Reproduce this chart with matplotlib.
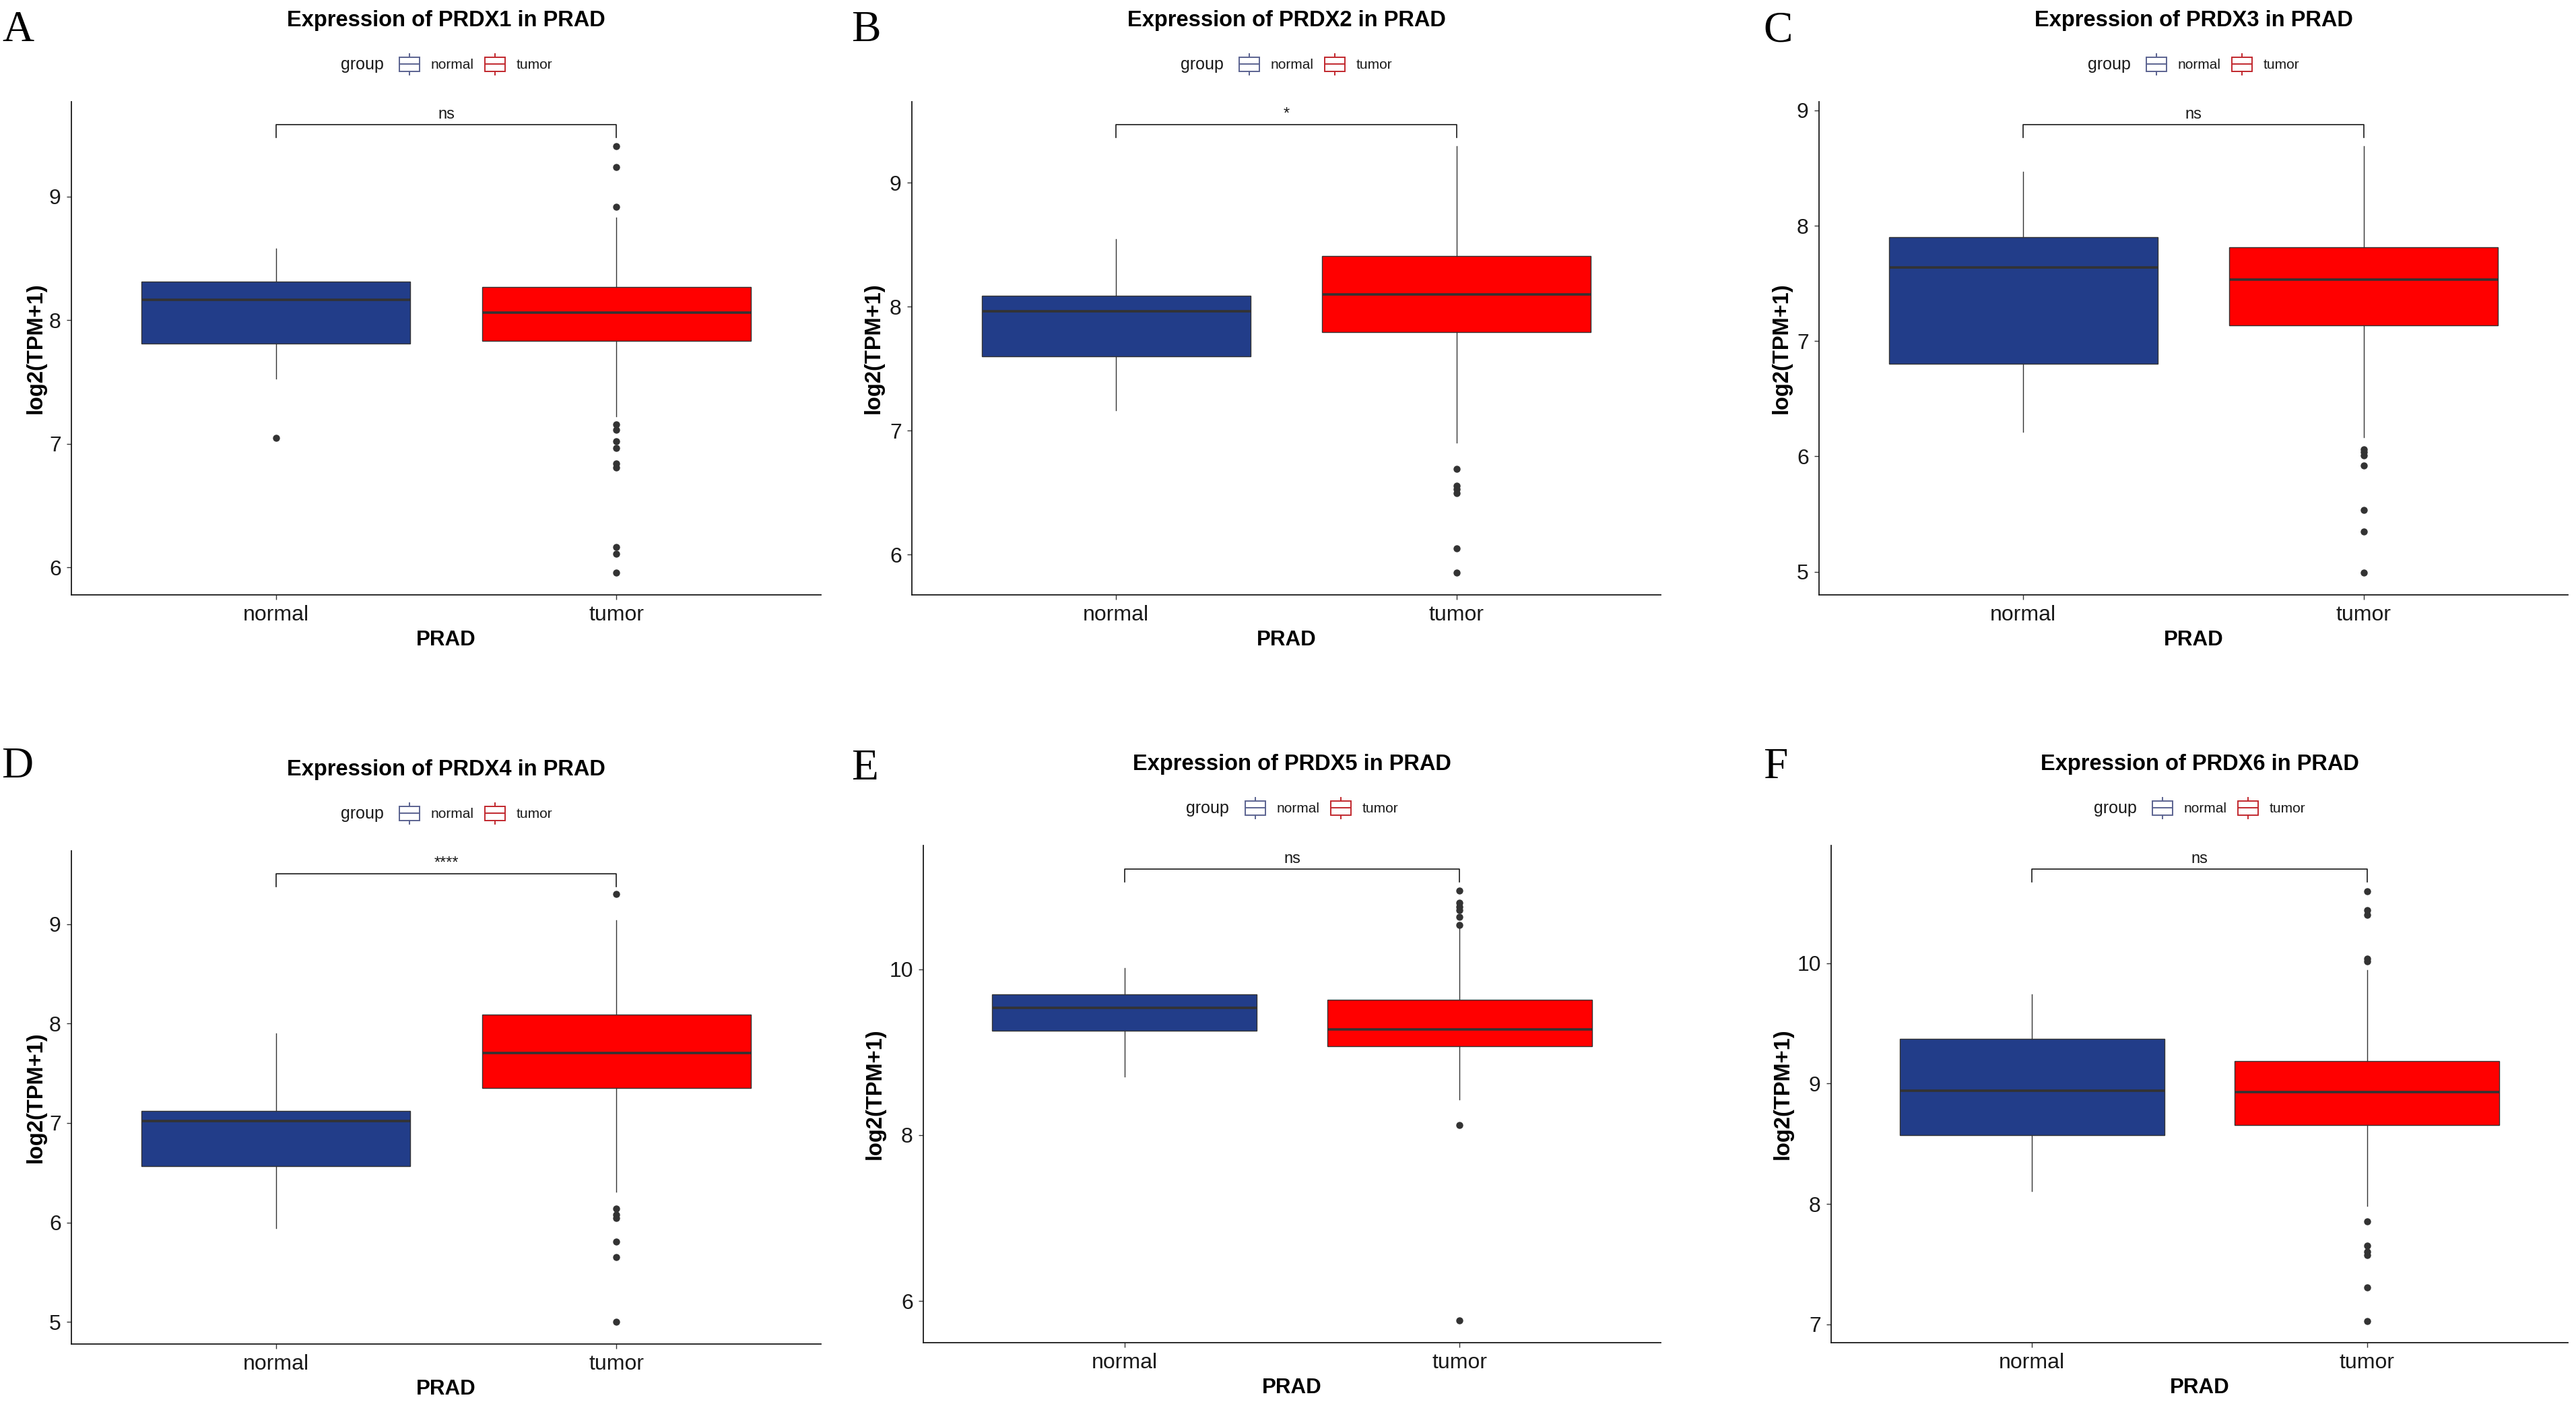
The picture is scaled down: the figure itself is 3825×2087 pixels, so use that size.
import matplotlib
matplotlib.use("Agg")
import matplotlib.pyplot as plt
from matplotlib.patches import Rectangle
from matplotlib.lines import Line2D

# ---------------- data ----------------
genes = ["PRDX1", "PRDX2", "PRDX3", "PRDX4", "PRDX5", "PRDX6"]
panel_letters = ["A", "B", "C", "D", "E", "F"]
groups = ["normal", "tumor"]
cancer = "PRAD"

# (whislo, q1, median, q3, whishi)
normal_stats = [
    [7.527, 7.81, 8.167, 8.31, 8.58],
    [7.164, 7.601, 7.962, 8.087, 8.548],
    [6.212, 6.80, 7.636, 7.90, 8.467],
    [5.940, 6.567, 7.020, 7.124, 7.899],
    [8.703, 9.255, 9.531, 9.698, 10.01],
    [8.109, 8.572, 8.938, 9.372, 9.742],
]
tumor_stats = [
    [7.224, 7.83, 8.06, 8.27, 8.83],
    [6.904, 7.795, 8.10, 8.409, 9.297],
    [6.163, 7.136, 7.531, 7.811, 8.691],
    [6.310, 7.350, 7.703, 8.09, 9.035],
    [8.427, 9.068, 9.276, 9.63, 10.495],
    [7.983, 8.658, 8.927, 9.185, 9.943],
]
normal_fliers = [[7.047], [], [], [], [], []]
tumor_fliers = [
    [9.41, 9.24, 8.92, 7.155, 7.113, 7.019, 6.967, 6.842, 6.81, 6.163, 6.11, 5.958],
    [6.692, 6.554, 6.53, 6.498, 6.05, 5.856],
    [6.062, 6.036, 6.007, 5.921, 5.537, 5.347, 4.993],
    [9.30, 6.14, 6.08, 6.045, 5.81, 5.649, 5.0],
    [10.943, 10.797, 10.755, 10.708, 10.63, 10.536, 8.125, 5.766],
    [10.596, 10.438, 10.402, 10.039, 10.014, 7.854, 7.653, 7.603, 7.578, 7.305, 7.029],
]
y_limits = [(5.777, 9.768), (5.676, 9.654), (4.799, 9.075),
            (4.778, 9.736), (5.5, 11.49), (6.849, 10.976)]
y_ticks = [[6, 7, 8, 9], [6, 7, 8, 9], [5, 6, 7, 8, 9],
           [5, 6, 7, 8, 9], [6, 8, 10], [7, 8, 9, 10]]
bracket_y = [9.583, 9.471, 8.877, 9.509, 11.203, 10.779]
signif = ["ns", "*", "ns", "****", "ns", "ns"]

# ---------------- style ----------------
W, H = 3825, 2087
DPI = 100
fill_colors = ["#223D89", "#FF0000"]
legend_edge = ["#5B6390", "#C1272D"]
SANS = "Liberation Sans"
SERIF = "Liberation Serif"

# axes boxes in pixels: (left, top, right, bottom)
boxes = [
    (106, 151, 1219, 883),
    (1354, 151, 2466, 883),
    (2701, 151, 3813, 883),
    (106, 1263, 1219, 1995),
    (1371, 1255, 2466, 1993),
    (2719, 1255, 3813, 1993),
]
ylabel_gap = [37, 41, 40, 37, 56, 56]
letter_pos = [(3, 61), (1264, 61), (2618, 61), (2, 1154), (1264, 1157), (2618, 1155)]

fig = plt.figure(figsize=(W / DPI, H / DPI), dpi=DPI, facecolor="white")


def fx(x):
    return x / W


def fy(y):
    return 1 - y / H


def draw_legend(cx, cy):
    fig.text(fx(cx - 157), fy(cy), "group", family=SANS, fontsize=18,
             color="#1a1a1a", ha="left", va="center")
    keys = [(-70, -23, "normal"), (57, 104, "tumor")]
    for (kx, tx, lab), ec in zip(keys, legend_edge):
        x0 = cx + kx
        fig.patches.append(Rectangle((fx(x0), fy(cy + 10)), 30 / W, 21 / H,
                                     transform=fig.transFigure, fill=False,
                                     edgecolor=ec, linewidth=1.4))
        fig.lines.append(Line2D([fx(x0), fx(x0 + 30)], [fy(cy - 1), fy(cy - 1)],
                                transform=fig.transFigure, color=ec, lw=1.4))
        fig.lines.append(Line2D([fx(x0 + 15), fx(x0 + 15)], [fy(cy - 11), fy(cy - 16)],
                                transform=fig.transFigure, color=ec, lw=1.4))
        fig.lines.append(Line2D([fx(x0 + 15), fx(x0 + 15)], [fy(cy + 10), fy(cy + 15)],
                                transform=fig.transFigure, color=ec, lw=1.4))
        fig.text(fx(cx + tx), fy(cy), lab, family=SANS, fontsize=15,
                 color="#1a1a1a", ha="left", va="center")


for i in range(6):
    l, t, r, b = boxes[i]
    ax = fig.add_axes([fx(l), fy(b), (r - l) / W, (b - t) / H])
    stats = []
    for j, (s, fl) in enumerate([(normal_stats[i], normal_fliers[i]),
                                 (tumor_stats[i], tumor_fliers[i])]):
        stats.append(dict(whislo=s[0], q1=s[1], med=s[2], q3=s[3], whishi=s[4],
                          fliers=fl, label=groups[j]))
    bp = ax.bxp(stats, positions=[1, 2], widths=0.79, patch_artist=True,
                showcaps=False,
                boxprops=dict(edgecolor="#333333", linewidth=1.0),
                medianprops=dict(color="#333333", linewidth=2.6),
                whiskerprops=dict(color="#333333", linewidth=1.0),
                flierprops=dict(marker="o", markerfacecolor="#333333",
                                markeredgecolor="#333333", markersize=6.5))
    for patch, c in zip(bp["boxes"], fill_colors):
        patch.set_facecolor(c)
    ax.set_xlim(0.4, 2.6)
    ylo, yhi = y_limits[i]
    ax.set_ylim(ylo, yhi)
    ax.set_yticks(y_ticks[i])
    ax.set_yticklabels([str(v) for v in y_ticks[i]])
    ax.set_xticks([1, 2])
    ax.set_xticklabels(groups)
    for sp in ["top", "right"]:
        ax.spines[sp].set_visible(False)
    for sp in ["left", "bottom"]:
        ax.spines[sp].set_color("#1a1a1a")
        ax.spines[sp].set_linewidth(1.3)
    ax.tick_params(axis="both", length=5, width=1.0, color="#333333",
                   labelsize=23, labelcolor="#1a1a1a", pad=6)
    for lab in ax.get_xticklabels() + ax.get_yticklabels():
        lab.set_family(SANS)

    # significance bracket
    tip = 19 / (b - t) * (yhi - ylo)
    by = bracket_y[i]
    ax.plot([1, 1, 2, 2], [by - tip, by, by, by - tip], color="#1a1a1a",
            lw=1.2, clip_on=False)
    ax.annotate(signif[i], xy=(1.5, by), xytext=(0, 3), textcoords="offset points",
                ha="center", va="bottom", family=SANS, fontsize=17, color="#1a1a1a")

    # labels
    fig.text(fx(l - ylabel_gap[i]), fy((t + b) / 2), "log2(TPM+1)", family=SANS,
             fontsize=23.5, fontweight="bold", rotation=90, ha="right", va="center")
    fig.text(fx((l + r) / 2), fy(b + 67), cancer, family=SANS, fontsize=22.5,
             fontweight="bold", ha="center", va="center")
    fig.text(fx((l + r) / 2), fy(t - 120), f"Expression of {genes[i]} in {cancer}",
             family=SANS, fontsize=23.5, fontweight="bold", ha="center", va="center")
    draw_legend((l + r) / 2, t - 55)

    lx, ly = letter_pos[i]
    fig.text(fx(lx), fy(ly), panel_letters[i], family=SERIF, fontsize=47,
             ha="left", va="baseline", color="black")

fig.savefig("out.png", dpi=DPI, facecolor="white")
